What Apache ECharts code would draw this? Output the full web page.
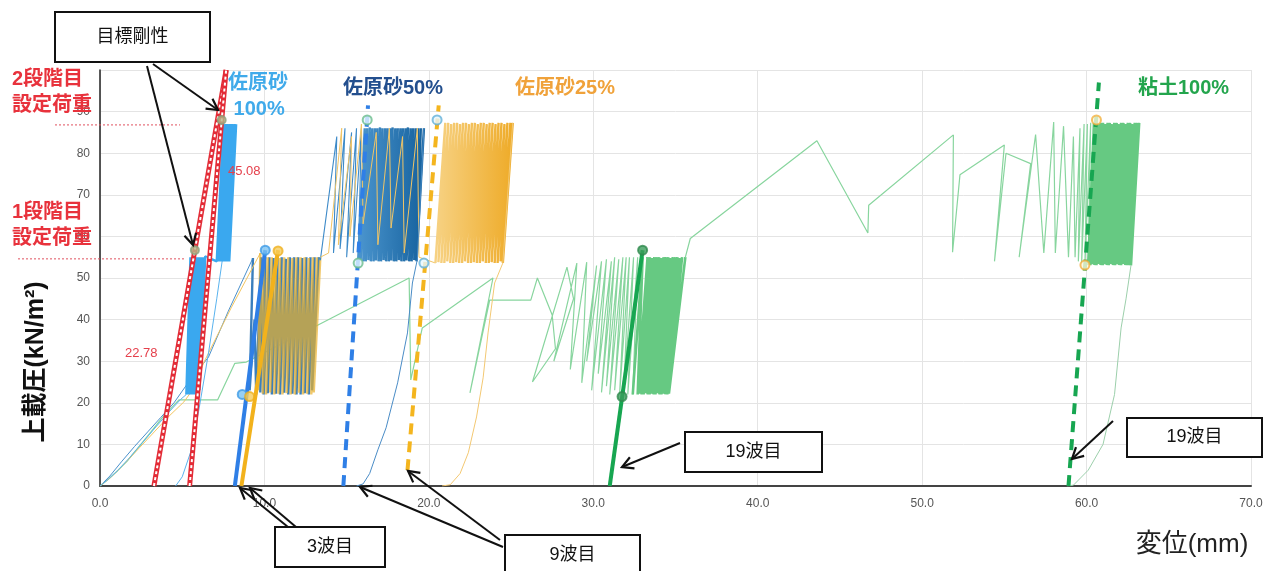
<!DOCTYPE html>
<html>
<head>
<meta charset="utf-8">
<script src="https://cdn.jsdelivr.net/npm/echarts/dist/echarts.min.js"></script>
<style>
html,body{margin:0;padding:0;background:#fff}
#main{width:1277px;height:571px}
</style>
</head>
<body>
<div id="main"></div>
<script>
var dom = document.getElementById("main");
var myChart = echarts.init(dom);

// 目標剛性 (two red lines)
var stiffLow = [[3.28, 0], [7.67, 100]];
var stiffHigh = [[5.45, 0], [7.67, 100]];
var stiffMarks = [[5.77, 56.7], [7.4, 88]];

// 佐原砂100%
var s100Rise = [[0,0],[0.5,1.6],[1.1,3.8],[1.8,6.8],[2.6,10.5],[3.4,14.2],[4.2,17.8],[4.9,20.8],[5.25,22]];
var s100Band1 = [[5.25,22],[5.5,55],[5.3,22.3],[5.55,54.8],[5.35,22],[5.6,55],[5.4,22.4],[5.65,55],[5.45,22],[5.7,54.7],
    [5.5,22.2],[5.75,55],[5.55,22],[5.8,55],[5.6,22.5],[5.85,54.8],[5.65,22],[5.9,55],[5.7,22.3],[5.95,55],
    [5.75,22],[6.0,54.6],[5.8,22.2],[6.05,55],[5.85,22],[6.1,55],[5.9,22.6],[6.15,54.8],[5.95,22],[6.2,55],
    [6.0,22.4],[6.3,55],[6.05,23],[6.4,55.2],[6.5,55]];
var s100Band2 = [[6.5,55],[7.1,54],[7.5,87],[7.16,54],[7.56,87],[7.22,54.2],[7.62,86.8],[7.28,54],[7.68,87],[7.34,54],
    [7.74,87],[7.4,54.3],[7.8,87],[7.46,54],[7.86,86.8],[7.52,54],[7.92,87],[7.58,54.2],[7.98,87],[7.64,54],
    [8.04,87],[7.7,54],[8.1,87],[7.76,54.2],[8.16,86.8],[7.82,54],[8.22,87],[7.86,54],[8.28,87]];
var s100Reload = [[4.6,0],[5.0,2.2],[5.5,8],[6.0,18],[6.6,32],[7.1,45],[7.5,56]];

// 佐原砂50%
var s50Rise = [[0,0],[0.6,2.4],[1.3,5.8],[2.1,9.5],[2.9,13],[3.7,16.5],[4.5,20],[5.3,24.5],[6.0,28],[6.6,31],[7.8,42],[9.3,54.8]];
var s50Low = [[9.3,54.8],[9.1,23],[9.4,40],[9.5,22],[9.8,55],[9.75,22.5],[10.05,55],[9.95,22],[10.3,55],[10.2,22.3],
    [10.55,54.8],[10.45,22],[10.8,55],[10.7,22.2],[11.05,55],[10.95,22],[11.3,54.6],[11.2,22.4],[11.55,55],[11.45,22],
    [11.8,55],[11.7,22.2],[12.05,55],[11.95,22],[12.3,54.8],[12.2,22],[12.55,55],[12.45,22.3],[12.8,55],[12.7,22],
    [13.05,55],[12.9,23],[13.3,55]];
var s50Mid = [[13.3,55],[13.4,54.3],[14.4,84],[14.2,56],[14.9,86],[14.6,57],[15.3,85],[15.0,55],[15.6,86],[15.4,56],[15.9,86],[15.7,54]];
var s50Band = [[15.7,54],[16.1,86],[15.85,54.2],[16.25,86],[16.01,54],[16.41,86.2],[16.16,54],[16.56,86],[16.32,54.3],[16.72,86],
    [16.47,54],[16.87,86],[16.63,54],[17.03,86.2],[16.78,54.2],[17.18,86],[16.94,54],[17.34,86],[17.09,54],[17.49,86],
    [17.25,54.3],[17.65,86],[17.4,54],[17.8,86.2],[17.56,54],[17.96,86],[17.71,54.2],[18.11,86],[17.87,54],[18.27,86],
    [18.02,54],[18.42,86],[18.18,54.3],[18.58,86],[18.33,54],[18.73,86.2],[18.49,54],[18.89,86],[18.64,54.2],[19.04,86],
    [18.8,54],[19.2,86],[18.95,54],[19.35,86],[19.11,54.3],[19.51,86],[19.25,54],[19.7,86]];
var s50End = [[19.7,86],[19.3,54.5],[19.0,48.8],[18.7,36.8],[18.1,24.8],[17.4,14],[16.9,8.7],[16.4,3],[16.0,0.5],[15.6,0]];

// 佐原砂25%
var s25Rise = [[0,0],[0.7,2.2],[1.5,5.4],[2.4,9.2],[3.3,13],[4.2,16.8],[5.1,20.2],[5.8,24],[6.3,29.6],[8.0,43],[9.75,56]];
var s25Low = [[9.75,56],[9.6,23],[9.95,55],[9.9,22.2],[10.2,55],[10.1,22],[10.45,55],[10.35,22.5],[10.7,55],[10.6,22],
    [10.95,54.8],[10.85,22.2],[11.2,55],[11.1,22],[11.45,55],[11.35,22.3],[11.7,54.8],[11.6,22],[11.95,55],[11.85,22],
    [12.2,55],[12.1,22.4],[12.45,55],[12.35,22],[12.7,54.8],[12.6,22.2],[12.95,55],[12.85,22],[13.2,55],[13.0,22.5],[13.4,55]];
var s25Mid = [[13.4,55],[13.9,56],[14.7,86],[14.5,58],[15.3,84],[15.2,60],[15.9,87],[16.0,63],[16.8,85],[16.9,58],
    [17.6,86],[17.7,62],[18.4,84],[18.5,56],[19.3,86],[19.4,55],[20.4,53.6]];
var s25Band = [[20.4,53.6],[21.0,87.3],[20.58,53.8],[21.18,87.3],[20.76,53.6],[21.36,87],[20.94,53.6],[21.54,87.3],[21.12,54],[21.72,87.3],
    [21.3,53.6],[21.9,87],[21.48,53.6],[22.08,87.3],[21.66,53.8],[22.26,87.3],[21.84,53.6],[22.44,87],[22.02,53.6],[22.62,87.3],
    [22.2,54],[22.8,87.3],[22.38,53.6],[22.98,87],[22.56,53.6],[23.16,87.3],[22.74,53.8],[23.34,87.3],[22.92,53.6],[23.52,87],
    [23.1,53.6],[23.7,87.3],[23.28,54],[23.88,87.3],[23.46,53.6],[24.06,87],[23.64,53.6],[24.24,87.3],[23.82,53.8],[24.42,87.3],
    [24.0,53.6],[24.6,87],[24.18,53.6],[24.78,87.3],[24.36,54],[24.96,87.3],[24.5,53.6],[25.1,87.3]];
var s25End = [[25.1,87.3],[24.5,53.6],[24.0,48.8],[23.6,36.8],[23.3,26],[22.9,16.6],[22.4,8],[21.9,3],[21.3,0.3],[20.8,0]];

// 粘土100%
var clayRise = [[0,0],[0.5,1.6],[1.1,3.8],[1.7,6.2],[2.4,9.6],[3.1,13],[3.8,16.5],[4.8,20.7],[7.15,20.7],[8.2,29.5],[8.9,29.8],
    [18.8,50],[18.9,25.5],[19.6,38],[23.9,50],[22.5,22.4],[23.7,44.7],[26.2,44.7],[26.6,50],[27.5,41.1],[27.7,33],[26.3,25],
    [28.4,52.6],[28.8,45],[27.6,30],[29.0,53.6],[28.6,28],[29.6,53.8],[29.3,24.8],[30.2,53],[29.6,30],[30.5,54],[29.9,23],
    [30.8,54.5],[30.3,27],[31.1,54],[30.5,22.5],[31.3,55],[30.8,24],[31.55,54.5],[31.0,22],[31.8,55],[31.3,23],[32.0,55],
    [31.6,22],[32.2,55],[31.85,22.5],[32.45,55],[32.1,22],[32.7,55],[32.4,22]];
var clayBand1 = [[32.4,22],[33.0,55],[32.7,22],[33.3,55],[32.82,22.2],[33.44,55],[32.94,22],[33.58,54.8],[33.06,22],[33.72,55],
    [33.18,22.3],[33.86,55],[33.3,22],[34.0,55],[33.42,22],[34.14,54.8],[33.54,22.2],[34.28,55],[33.66,22],[34.42,55],
    [33.78,22],[34.56,55],[33.9,22.3],[34.7,54.8],[34.02,22],[34.84,55],[34.14,22],[34.98,55],[34.26,22.2],[35.12,55],
    [34.38,22],[35.26,54.8],[34.5,22],[35.4,55],[34.6,22.2],[35.6,55]];
var clayMid = [[35.6,55],[35.9,59.5],[43.6,83],[46.7,60.8],[46.75,67.5],[51.9,84.4],[51.85,56.2],[52.3,74.8],[55.0,82],
    [54.4,54],[55.1,80],[56.6,77.5],[55.9,55],[56.9,84.5],[57.4,56],[58.0,87.5],[58.1,56],[58.6,86.5],[58.9,55],[59.2,84],
    [59.3,55],[59.6,86],[59.5,54],[59.85,87],[59.7,53.5],[60.05,87],[59.9,53.2],[60.25,87.3],[60.1,53.1]];
var clayBand2 = [[60.1,53.1],[60.45,87.3],[60.23,53.1],[60.59,87.3],[60.35,53.3],[60.73,87],[60.48,53.1],[60.86,87.3],[60.6,53.1],[61.0,87.3],
    [60.73,53.4],[61.14,87],[60.85,53.1],[61.28,87.3],[60.98,53.1],[61.41,87.3],[61.1,53.3],[61.55,87],[61.23,53.1],[61.69,87.3],
    [61.35,53.1],[61.83,87.3],[61.48,53.4],[61.96,87],[61.6,53.1],[62.1,87.3],[61.73,53.1],[62.24,87.3],[61.85,53.3],[62.38,87],
    [61.98,53.1],[62.51,87.3],[62.1,53.1],[62.65,87.3],[62.23,53.4],[62.79,87],[62.35,53.1],[62.93,87.3],[62.48,53.1],[63.06,87.3],
    [62.6,53.1],[63.2,87.3],[62.7,53]];
var clayEnd = [[62.7,53],[62.4,45],[62.1,38],[61.7,22],[61.0,10],[60.1,3.8],[59.2,0.2],[58.8,0]];

// 3波目・9波目・19波目
var wave3Blue = [[8.2,0],[10.05,56.7]];
var wave3BlueMarks = [[8.65,22],[10.05,56.7]];
var wave3Orange = [[8.6,0],[10.83,56.7]];
var wave3OrangeMarks = [[9.1,21.5],[10.83,56.5]];
var wave9Blue = [[14.8,0],[16.3,91.5]];
var wave9BlueMarks = [[15.7,53.6],[16.25,88]];
var wave9Orange = [[18.7,3.8],[20.6,91.5]];
var wave9OrangeMarks = [[19.7,53.6],[20.5,88]];
var wave19Green = [[31.0,0],[33.0,56.7]];
var wave19GreenMarks = [[31.75,21.5],[33.0,56.7]];
var wave19GreenD = [[58.9,0],[60.75,97]];
var wave19GreenDMarks = [[59.9,53.1],[60.6,88]];

var stage1Load = 54.6;
var stage2Load = 86.8;

var FONT = '"Liberation Sans", "Noto Sans CJK JP"';

function ln(data, color, width, extra) {
    var s = {
        type: 'line', data: data, symbol: 'none', smooth: false, animation: false,
        silent: true, lineStyle: {color: color, width: width}
    };
    for (var k in extra) s[k] = extra[k];
    return s;
}
function marks(data, fill, border, size) {
    return {
        type: 'scatter', data: data, symbolSize: size || 9, animation: false, silent: true, z: 5,
        itemStyle: {color: fill, borderColor: border, borderWidth: 2}
    };
}
function grad(c1, c2) {
    return new echarts.graphic.LinearGradient(0, 0, 1, 0, [{offset: 0, color: c1}, {offset: 1, color: c2}]);
}

var clayC = '#88d59e', clayBandC = '#66c982';
var sky = '#3aa8ef';

option = {
    backgroundColor: '#fff',
    animation: false,
    grid: {left: 100, right: 26, top: 70, bottom: 85},
    xAxis: {
        type: 'value', min: 0, max: 70, interval: 10,
        axisLine: {show: true, onZero: false, lineStyle: {color: '#444', width: 2}},
        axisTick: {show: false},
        axisLabel: {color: '#555', fontSize: 12, fontFamily: 'Liberation Sans', margin: 12,
            formatter: function (v) { return v.toFixed(1); }},
        splitLine: {show: true, lineStyle: {color: '#e4e4e4'}}
    },
    yAxis: {
        type: 'value', min: 0, max: 100, interval: 10,
        axisLine: {show: true, lineStyle: {color: '#222', width: 1.5}},
        axisTick: {show: false},
        axisLabel: {color: '#555', fontSize: 12, fontFamily: 'Liberation Sans', margin: 10, showMaxLabel: false},
        splitLine: {show: true, lineStyle: {color: '#e4e4e4'}}
    },
    series: [
        ln(clayRise, clayC, 1.2, {}),
        ln(clayBand1, clayBandC, 2.6, {}),
        ln(clayMid, clayC, 1.2, {}),
        ln(clayBand2, clayBandC, 2.6, {}),
        ln(clayEnd, '#9ccfab', 1, {}),

        ln(s50Rise, '#4a90cc', 1, {}),
        ln(s50Low, '#3b7fbd', 2.4, {}),
        ln(s25Rise, '#f2c560', 1, {}),
        ln(s25Low, '#e9b02c', 2.4, {lineStyle: {color: '#e9b02c', width: 2.4, opacity: 0.7}}),
        ln(s50Mid, '#3d8ac8', 1.1, {}),
        ln(s50Band, grad('#4d97d0', '#14609c'), 2.4, {}),
        ln(s25Mid, '#f1c566', 1, {}),
        ln(s50End, '#4a8cc6', 1, {}),
        ln(s25Band, grad('#f7d386', '#eeaa26'), 2.4, {}),
        ln(s25End, '#f3c872', 1, {}),

        ln(s100Rise, '#5ab3ee', 1, {}),
        ln(s100Reload, '#5ab3ee', 1, {}),
        ln(s100Band1, sky, 2.4, {}),
        ln(s100Band2, sky, 2.4, {}),

        ln(stiffLow, '#e32b36', 5, {z: 3}),
        ln(stiffLow, '#ffffff', 2, {z: 3, lineStyle: {color: '#ffffff', width: 2, type: [3, 3]}}),
        ln(stiffHigh, '#e32b36', 5, {z: 3}),
        ln(stiffHigh, '#ffffff', 2, {z: 3, lineStyle: {color: '#ffffff', width: 2, type: [3, 3]}}),

        ln(wave3Blue, '#2f7fe6', 4, {z: 4}),
        ln(wave3Orange, '#f2b21c', 4, {z: 4}),
        ln(wave9Blue, '#2f7fe6', 4, {z: 4, lineStyle: {color: '#2f7fe6', width: 4, type: [11, 7]}}),
        ln(wave9Orange, '#f4b51e', 4, {z: 4, lineStyle: {color: '#f4b51e', width: 4, type: [11, 7]}}),
        ln(wave19Green, '#17a651', 4, {z: 4}),
        ln(wave19GreenD, '#17a651', 4, {z: 4, lineStyle: {color: '#17a651', width: 4, type: [11, 7]}}),

        marks(stiffMarks, '#b7b98a', '#8f9f7a', 8),
        marks(wave3BlueMarks, '#7cc3f2', '#3e9be6', 9),
        marks(wave3OrangeMarks, '#f6cc5a', '#efb020', 9),
        marks(wave9BlueMarks, '#e6f6ff', '#6bbd8c', 9),
        marks(wave9OrangeMarks, '#e6f6ff', '#63b0d8', 9),
        marks(wave19GreenMarks, '#3c9d5c', '#2f8a4e', 9),
        marks(wave19GreenDMarks, '#fff6dc', '#f3b03e', 9)
    ]
};
myChart.setOption(option);

function arrow(x1, y1, x2, y2) {
    var a = Math.atan2(y2 - y1, x2 - x1), L = 11, W = 6;
    var bx = x2 - L * Math.cos(a), by = y2 - L * Math.sin(a);
    return [
        {type: 'line', shape: {x1: x1, y1: y1, x2: x2, y2: y2}, style: {stroke: '#111', lineWidth: 2}, z: 100},
        {type: 'polyline', shape: {points: [[bx + W * Math.sin(a), by - W * Math.cos(a)], [x2, y2], [bx - W * Math.sin(a), by + W * Math.cos(a)]]},
            style: {stroke: '#111', lineWidth: 2.2, fill: null}, z: 100}
    ];
}
function box(x, y, w, h, t) {
    return [
        {type: 'rect', shape: {x: x, y: y, width: w, height: h}, style: {fill: '#fff', stroke: '#111', lineWidth: 2}, z: 100},
        {type: 'text', x: x + w / 2, y: y + h / 2, z: 101,
            style: {text: t, font: '18px ' + FONT, fill: '#111', textAlign: 'center', textVerticalAlign: 'middle', align: 'center', verticalAlign: 'middle'}}
    ];
}
function txt(x, y, t, color, size, weight) {
    return {type: 'text', x: x, y: y, z: 102,
        style: {text: t, font: (weight || 'normal') + ' ' + size + 'px ' + FONT, fill: color, textAlign: 'left', textVerticalAlign: 'top', lineHeight: size + 6}};
}

var y1p = myChart.convertToPixel({gridIndex: 0}, [0, stage1Load])[1];
var y2p = myChart.convertToPixel({gridIndex: 0}, [0, stage2Load])[1];

var g = [];
g.push({type: 'line', shape: {x1: 55, y1: y2p, x2: 180, y2: y2p}, style: {stroke: '#e0505e', lineWidth: 1, lineDash: [2, 2]}, z: 90});
g.push({type: 'line', shape: {x1: 18, y1: y1p, x2: 185, y2: y1p}, style: {stroke: '#e0505e', lineWidth: 1, lineDash: [2, 2]}, z: 90});
g.push(txt(12, 66, '2段階目\n設定荷重', '#e8323c', 20, 'bold'));
g.push(txt(12, 199, '1段階目\n設定荷重', '#e8323c', 20, 'bold'));
g.push(txt(228, 162, '45.08', '#e5404c', 13));
g.push(txt(125, 344, '22.78', '#e5404c', 13));
g.push(txt(228, 70, '佐原砂\n 100%', '#40aaea', 20, 'bold'));
g.push(txt(343, 75, '佐原砂50%', '#234f8e', 20, 'bold'));
g.push(txt(515, 75, '佐原砂25%', '#f0a23a', 20, 'bold'));
g.push(txt(1138, 75, '粘土100%', '#23a54d', 20, 'bold'));
g = g.concat(box(55, 12, 155, 50, '目標剛性'));
g = g.concat(box(275, 527, 110, 40, '3波目'));
g = g.concat(box(505, 535, 135, 40, '9波目'));
g = g.concat(box(685, 432, 137, 40, '19波目'));
g = g.concat(box(1127, 418, 135, 39, '19波目'));
g = g.concat(arrow(147, 66, 193, 245));
g = g.concat(arrow(153, 64, 218, 110));
g = g.concat(arrow(288, 527, 240, 488));
g = g.concat(arrow(296, 527, 250, 488));
g = g.concat(arrow(503, 547, 360, 487));
g = g.concat(arrow(500, 540, 408, 471));
g = g.concat(arrow(680, 443, 622, 467));
g = g.concat(arrow(1113, 421, 1072, 459));
g.push({type: 'text', x: 36, y: 362, rotation: Math.PI / 2, z: 102,
    style: {text: '上載圧(kN/m²)', font: 'bold 25px ' + FONT, fill: '#111', textAlign: 'center', textVerticalAlign: 'middle', align: 'center', verticalAlign: 'middle'}});
g.push({type: 'text', x: 1192, y: 545, z: 102,
    style: {text: '変位(mm)', font: '26px ' + FONT, fill: '#222', textAlign: 'center', textVerticalAlign: 'middle', align: 'center', verticalAlign: 'middle'}});

myChart.setOption({graphic: {elements: g}});
</script>
</body>
</html>
